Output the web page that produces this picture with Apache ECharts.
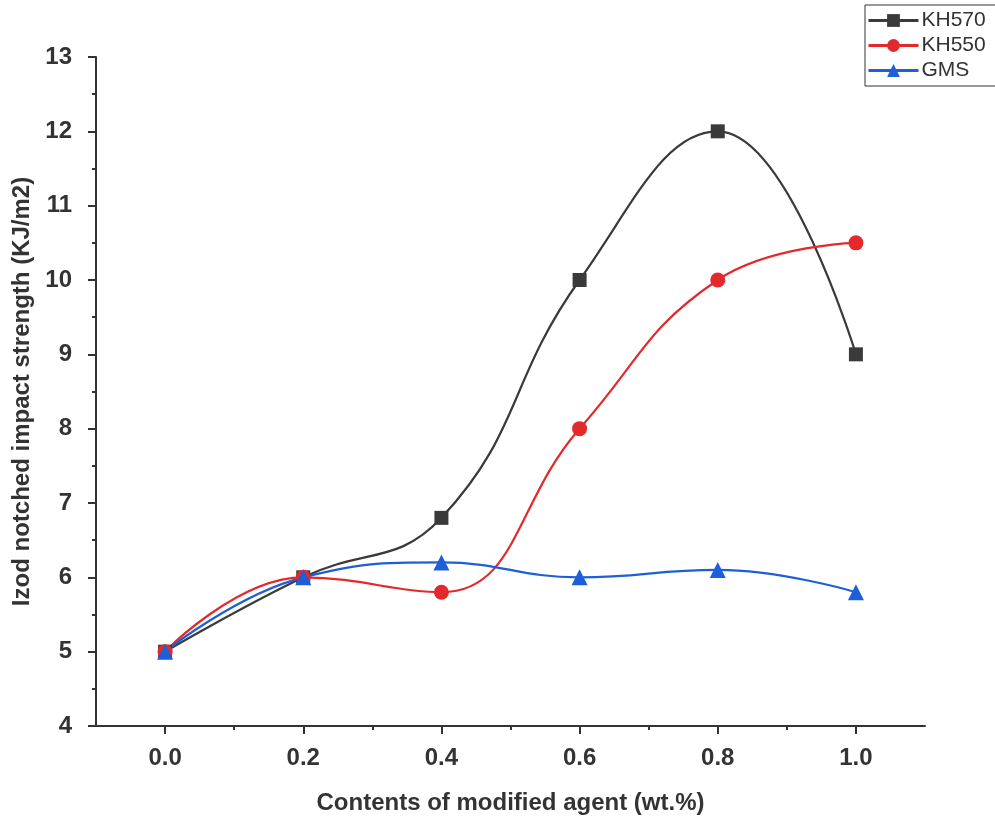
<!DOCTYPE html>
<html>
<head>
<meta charset="utf-8">
<script src="https://cdn.jsdelivr.net/npm/echarts@6/dist/echarts.min.js"></script>
<style>
  html, body { margin: 0; padding: 0; background: #fff; }
  #chart { width: 995px; height: 821px; }
</style>
</head>
<body>
<div id="chart"></div>
<script>
// data
var contents = [0.0, 0.2, 0.4, 0.6, 0.8, 1.0];
var kh570 = [5.0, 6.0, 6.8, 10.0, 12.0, 9.0];
var kh550 = [5.0, 6.0, 5.8, 8.0, 10.0, 10.5];
var gms = [5.0, 6.0, 6.2, 6.0, 6.1, 5.8];
var xLabels = [0.0, 0.2, 0.4, 0.6, 0.8, 1.0];
var xMinor = [0.1, 0.3, 0.5, 0.7, 0.9];

function pairs(xs, ys) {
	var out = [];
	for (var i = 0; i < xs.length; i++) {
		out.push([xs[i], ys[i]]);
	}
	return out;
}

var font = 'Liberation Sans, Arial, sans-serif';
var axisColor = '#333';

var chart = echarts.init(document.getElementById('chart'));
var option = {
	animation: false,
	grid: { left: 96, right: 70, top: 57, bottom: 95 },
	legend: {
		orient: 'vertical',
		left: 865,
		top: 5,
		itemWidth: 50,
		itemHeight: 16,
		itemGap: 4,
		padding: [5, 30, 5, 2],
		borderColor: '#333',
		borderWidth: 1,
		lineStyle: { width: 3 },
		textStyle: { fontFamily: font, fontSize: 21, color: '#333', padding: [0, 0, 0, -2] },
		data: ['KH570', 'KH550', 'GMS']
	},
	xAxis: [{
		type: 'value',
		min: -0.1,
		max: 1.1,
		name: 'Contents of modified agent (wt.%)',
		nameLocation: 'middle',
		nameGap: 65,
		nameTextStyle: { fontFamily: font, fontSize: 24, fontWeight: 'bold', color: '#333' },
		axisLine: { onZero: false, lineStyle: { color: axisColor, width: 2 } },
		axisTick: { customValues: xLabels, length: 8, lineStyle: { color: axisColor, width: 2 } },
		axisLabel: {
			customValues: xLabels,
			margin: 20,
			fontFamily: font, fontSize: 24, fontWeight: 'bold', color: '#333',
			formatter: function (v) { return v.toFixed(1); }
		},
		splitLine: { show: false }
	}, {
		type: 'value',
		min: -0.1,
		max: 1.1,
		position: 'bottom',
		axisLine: { show: false, onZero: false },
		axisTick: { customValues: xMinor, length: 4, lineStyle: { color: axisColor, width: 2 } },
		axisLabel: { show: false },
		splitLine: { show: false }
	}],
	yAxis: {
		type: 'value',
		min: 4,
		max: 13,
		interval: 1,
		name: 'Izod notched impact strength (KJ/m2)',
		nameLocation: 'middle',
		nameGap: 62,
		nameTextStyle: { fontFamily: font, fontSize: 24, fontWeight: 'bold', color: '#333' },
		axisLine: { show: true, onZero: false, lineStyle: { color: axisColor, width: 2 } },
		axisTick: { show: true, length: 8, lineStyle: { color: axisColor, width: 2 } },
		minorTick: { show: true, splitNumber: 2, length: 4, lineStyle: { color: axisColor, width: 2 } },
		axisLabel: { margin: 24, fontFamily: font, fontSize: 24, fontWeight: 'bold', color: '#333' },
		splitLine: { show: false }
	},
	series: [{
		name: 'KH570',
		type: 'line',
		smooth: 0.45,
		symbol: 'rect',
		symbolSize: 14,
		color: '#3a3a3a',
		lineStyle: { width: 2.2 },
		data: pairs(contents, kh570)
	}, {
		name: 'KH550',
		type: 'line',
		smooth: 0.45,
		symbol: 'circle',
		symbolSize: 15,
		color: '#e3292c',
		lineStyle: { width: 2.2 },
		data: pairs(contents, kh550)
	}, {
		name: 'GMS',
		type: 'line',
		smooth: 0.45,
		symbol: 'triangle',
		symbolSize: 16,
		color: '#1e5fd8',
		lineStyle: { width: 2.2 },
		data: pairs(contents, gms)
	}]
};
chart.setOption(option);
</script>
</body>
</html>
